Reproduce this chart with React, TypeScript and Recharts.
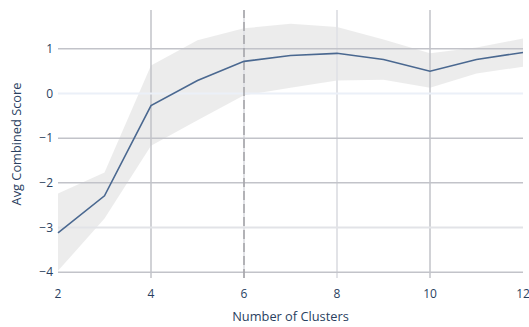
import {
  ComposedChart,
  Area,
  Line,
  XAxis,
  YAxis,
  ReferenceLine,
  Label,
} from "recharts";

const clusters = [2, 3, 4, 5, 6, 7, 8, 9, 10, 11, 12];
const avgScore = [-3.12, -2.29, -0.27, 0.29, 0.72, 0.85, 0.9, 0.76, 0.5, 0.76, 0.92];
const upper = [-2.24, -1.77, 0.63, 1.19, 1.46, 1.56, 1.49, 1.21, 0.9, 1.03, 1.23];
const lower = [-3.97, -2.8, -1.17, -0.6, -0.04, 0.13, 0.29, 0.31, 0.13, 0.45, 0.6];

const xTicks = [2, 4, 6, 8, 10, 12];
const yTicks = [-4, -3, -2, -1, 0, 1];

// grid strokes alternate dark / light like the original render
const xGrid = [
  { v: 4, c: "#c2c3c9", w: 1.5 },
  { v: 6, c: "#e2e3e7", w: 2 },
  { v: 8, c: "#e2e3e7", w: 2 },
  { v: 10, c: "#c2c3c9", w: 1.5 },
];
const yGrid = [
  { v: 1, c: "#c2c3c9", w: 1.5 },
  { v: 0, c: "#ebf0f8", w: 2 },
  { v: -1, c: "#c2c3c9", w: 1.5 },
  { v: -2, c: "#c2c3c9", w: 1.5 },
  { v: -3, c: "#e2e3e7", w: 2 },
  { v: -4, c: "#c2c3c9", w: 1.5 },
];

const data = clusters.map((k, i) => ({
  k,
  score: avgScore[i],
  band: [lower[i], upper[i]],
}));

const TEXT = "#2a3f5f";
const FONT = "'Open Sans', Verdana, Arial, sans-serif";

export default function App() {
  return (
    <div style={{ position: "absolute", left: 0, top: 0, background: "#fff" }}>
      <ComposedChart
        width={529}
        height={327}
        data={data}
        margin={{ top: 10, right: 6, left: 0, bottom: 0 }}
        style={{ fontFamily: FONT }}
      >
        <XAxis
          dataKey="k"
          type="number"
          domain={[2, 12]}
          ticks={xTicks}
          axisLine={false}
          tickLine={false}
          tickSize={0}
          tickMargin={11}
          height={49}
          tick={{ fill: TEXT, fontSize: 12 }}
        >
          <Label
            value="Number of Clusters"
            position="insideBottom"
            offset={6}
            style={{ fill: TEXT, fontSize: 12.8 }}
          />
        </XAxis>
        <YAxis
          type="number"
          domain={[-4.13, 1.87]}
          ticks={yTicks}
          axisLine={false}
          tickLine={false}
          tickSize={0}
          tickMargin={5}
          width={58}
          tick={{ fill: TEXT, fontSize: 12 }}
          tickFormatter={(v: number) => (v < 0 ? `\u2212${Math.abs(v)}` : `${v}`)}
        >
          <Label
            value="Avg Combined Score"
            angle={-90}
            position="insideLeft"
            offset={16}
            style={{ fill: TEXT, fontSize: 12.8, textAnchor: "middle" }}
          />
        </YAxis>
        {xGrid.map((g) => (
          <ReferenceLine key={`x${g.v}`} x={g.v} stroke={g.c} strokeWidth={g.w} />
        ))}
        {yGrid.map((g) => (
          <ReferenceLine key={`y${g.v}`} y={g.v} stroke={g.c} strokeWidth={g.w} />
        ))}
        <Area
          dataKey="band"
          type="linear"
          stroke="none"
          fill="rgb(128,128,128)"
          fillOpacity={0.15}
          isAnimationActive={false}
          activeDot={false}
        />
        <ReferenceLine x={6} stroke="#a3a3a6" strokeWidth={1.5} strokeDasharray="9 4" />
        <Line
          dataKey="score"
          type="linear"
          stroke="#4a6890"
          strokeWidth={1.6}
          dot={false}
          isAnimationActive={false}
        />
      </ComposedChart>
    </div>
  );
}
